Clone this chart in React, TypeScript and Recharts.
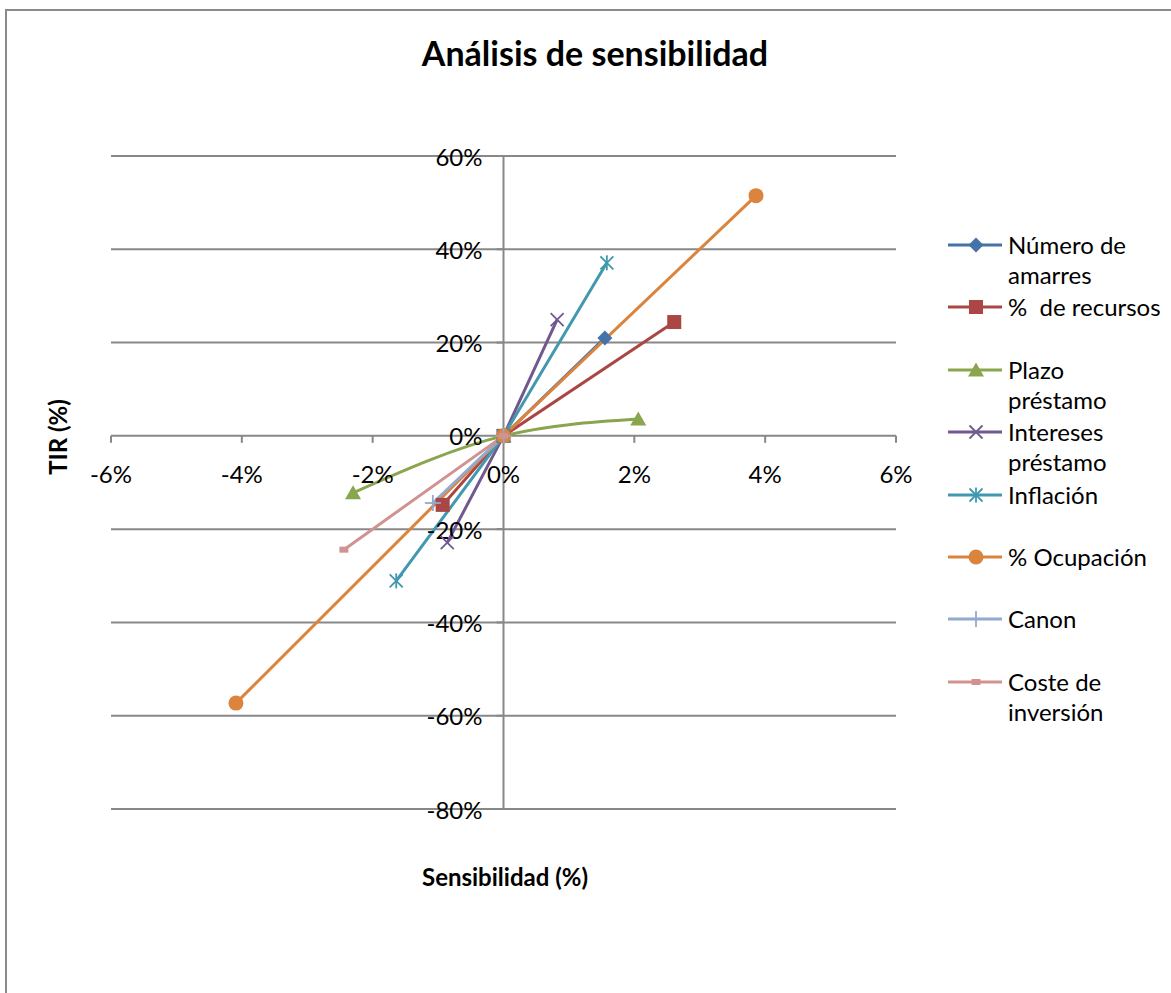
import React from "react";
import {
  LineChart,
  Line,
  XAxis,
  YAxis,
  ReferenceLine,
  ReferenceDot,
  Legend,
} from "recharts";

const X_TICKS = [-6, -4, -2, 0, 2, 4, 6];
const Y_TICKS = [60, 40, 20, 0, -20, -40, -60, -80];

// sensibilidad (%) vs TIR (%)
const numeroAmarres = [
  { x: 0, y: 0 },
  { x: 1.55, y: 21.0 },
];
const recursos = [
  { x: -0.93, y: -14.8 },
  { x: 0, y: 0 },
  { x: 2.61, y: 24.4 },
];
const plazoPrestamo = [
  { x: -2.3, y: -12.2 },
  { x: 0, y: 0 },
  { x: 2.06, y: 3.6 },
];
const interesesPrestamo = [
  { x: -0.86, y: -22.9 },
  { x: 0, y: 0 },
  { x: 0.82, y: 24.9 },
];
const inflacion = [
  { x: -1.64, y: -31.1 },
  { x: 0, y: 0 },
  { x: 1.58, y: 37.1 },
];
const ocupacion = [
  { x: -4.09, y: -57.3 },
  { x: 0, y: 0 },
  { x: 3.86, y: 51.5 },
];
const canon = [
  { x: -1.08, y: -14.4 },
  { x: 0, y: 0 },
];
const costeInversion = [
  { x: -2.44, y: -24.4 },
  { x: 0, y: 0 },
];

type Kind = "diamond" | "square" | "triangle" | "x" | "star" | "circle" | "plus" | "dash";

const SERIES: {
  name: string;
  label: string;
  color: string;
  kind: Kind;
  curve: "linear" | "monotone";
  data: { x: number; y: number }[];
}[] = [
  { name: "Número de amarres", label: "Número de\namarres", color: "#4572A7", kind: "diamond", curve: "linear", data: numeroAmarres },
  { name: "% de recursos", label: "%  de recursos", color: "#AA4643", kind: "square", curve: "linear", data: recursos },
  { name: "Plazo préstamo", label: "Plazo\npréstamo", color: "#89A54E", kind: "triangle", curve: "monotone", data: plazoPrestamo },
  { name: "Intereses préstamo", label: "Intereses\npréstamo", color: "#71588F", kind: "x", curve: "linear", data: interesesPrestamo },
  { name: "Inflación", label: "Inflación", color: "#4198AF", kind: "star", curve: "linear", data: inflacion },
  { name: "% Ocupación", label: "% Ocupación", color: "#DB843D", kind: "circle", curve: "linear", data: ocupacion },
  { name: "Canon", label: "Canon", color: "#93A9CF", kind: "plus", curve: "linear", data: canon },
  { name: "Coste de inversión", label: "Coste de\ninversión", color: "#D19392", kind: "dash", curve: "linear", data: costeInversion },
];

const FONT = "Lato, 'Open Sans', sans-serif";
const GRID = "#888888";

function Marker({ cx, cy, kind, color }: { cx: number; cy: number; kind: Kind; color: string }) {
  switch (kind) {
    case "diamond":
      return <polygon points={`${cx},${cy - 7.5} ${cx + 7.5},${cy} ${cx},${cy + 7.5} ${cx - 7.5},${cy}`} fill={color} />;
    case "square":
      return <rect x={cx - 7} y={cy - 7} width={14} height={14} fill={color} />;
    case "triangle":
      return <polygon points={`${cx},${cy - 7.5} ${cx + 8},${cy + 6.5} ${cx - 8},${cy + 6.5}`} fill={color} />;
    case "x":
      return (
        <g stroke={color} strokeWidth={1.8}>
          <line x1={cx - 6.5} y1={cy - 6.5} x2={cx + 6.5} y2={cy + 6.5} />
          <line x1={cx - 6.5} y1={cy + 6.5} x2={cx + 6.5} y2={cy - 6.5} />
        </g>
      );
    case "star":
      return (
        <g stroke={color} strokeWidth={1.8}>
          <line x1={cx - 6.5} y1={cy - 6.5} x2={cx + 6.5} y2={cy + 6.5} />
          <line x1={cx - 6.5} y1={cy + 6.5} x2={cx + 6.5} y2={cy - 6.5} />
          <line x1={cx} y1={cy - 7.5} x2={cx} y2={cy + 7.5} />
        </g>
      );
    case "circle":
      return <circle cx={cx} cy={cy} r={7.5} fill={color} />;
    case "plus":
      return (
        <g stroke={color} strokeWidth={1.8}>
          <line x1={cx - 8} y1={cy} x2={cx + 8} y2={cy} />
          <line x1={cx} y1={cy - 8} x2={cx} y2={cy + 8} />
        </g>
      );
    default:
      return <rect x={cx - 4.5} y={cy - 3} width={9} height={6} fill={color} />;
  }
}

function renderLegend() {
  return (
    <div style={{ fontFamily: FONT, fontSize: 24, color: "#000" }}>
      {SERIES.map((s) => (
        <div key={s.name} style={{ position: "relative", height: 62.4 }}>
          <svg width={56} height={30} style={{ position: "absolute", left: 0, top: 0 }}>
            <line x1={0} y1={15} x2={54} y2={15} stroke={s.color} strokeWidth={3} />
            <Marker cx={28} cy={15} kind={s.kind} color={s.color} />
          </svg>
          <div style={{ position: "absolute", left: 60, top: 0, lineHeight: "30px", whiteSpace: "pre" }}>
            {s.label}
          </div>
        </div>
      ))}
    </div>
  );
}

export default function App() {
  return (
    <div
      style={{
        position: "absolute",
        left: 0,
        top: 0,
        width: 1171,
        height: 993,
        background: "#fff",
        overflow: "hidden",
        fontFamily: FONT,
      }}
    >
      <div
        style={{
          position: "absolute",
          left: 5,
          top: 9,
          width: 1400,
          height: 1200,
          borderTop: "2px solid #8a8a8a",
          borderLeft: "2px solid #8a8a8a",
        }}
      />
      <div
        style={{
          position: "absolute",
          left: 0,
          width: 1190,
          top: 32,
          textAlign: "center",
          fontSize: 34,
          fontWeight: 700,
        }}
      >
        Análisis de sensibilidad
      </div>
      <div
        style={{
          position: "absolute",
          left: 305,
          width: 400,
          top: 862,
          textAlign: "center",
          fontSize: 24,
          fontWeight: 700,
        }}
      >
        Sensibilidad (%)
      </div>
      <div
        style={{
          position: "absolute",
          left: 57,
          top: 437,
          transform: "translate(-50%, -50%) rotate(-90deg)",
          fontSize: 24,
          fontWeight: 700,
          whiteSpace: "nowrap",
        }}
      >
        TIR (%)
      </div>
      <div style={{ position: "absolute", left: 0, top: 0 }}>
        <LineChart width={1171} height={993} margin={{ top: 156, right: 275, bottom: 184, left: 111 }}>
          <XAxis type="number" dataKey="x" domain={[-6, 6]} ticks={X_TICKS} hide />
          <YAxis type="number" domain={[-80, 60]} ticks={Y_TICKS} hide />
          {Y_TICKS.map((t) => (
            <ReferenceLine key={`g${t}`} y={t} stroke={GRID} strokeWidth={2} />
          ))}
          <ReferenceLine x={0} stroke={GRID} strokeWidth={2} />
          {X_TICKS.map((t) => (
            <ReferenceDot
              key={`xt${t}`}
              x={t}
              y={0}
              r={0}
              shape={(p: any) => (
                <g>
                  <line x1={p.cx} y1={p.cy} x2={p.cx} y2={p.cy + 7} stroke={GRID} strokeWidth={2} />
                  <text
                    x={p.cx}
                    y={p.cy + 38}
                    textAnchor="middle"
                    dominantBaseline="central"
                    fontSize={24}
                    fontFamily={FONT}
                    fill="#000"
                  >
                    {`${t}%`}
                  </text>
                </g>
              )}
            />
          ))}
          {Y_TICKS.map((t) => (
            <ReferenceDot
              key={`yt${t}`}
              x={0}
              y={t}
              r={0}
              shape={(p: any) => (
                <g>
                  <line x1={p.cx - 7} y1={p.cy} x2={p.cx} y2={p.cy} stroke={GRID} strokeWidth={2} />
                  <text
                    x={p.cx - 21}
                    y={p.cy}
                    textAnchor="end"
                    dominantBaseline="central"
                    fontSize={24}
                    fontFamily={FONT}
                    fill="#000"
                  >
                    {`${t}%`}
                  </text>
                </g>
              )}
            />
          ))}
          {SERIES.map((s) => (
            <Line
              key={s.name}
              name={s.name}
              data={s.data}
              dataKey="y"
              type={s.curve}
              stroke={s.color}
              strokeWidth={3}
              isAnimationActive={false}
              activeDot={false}
              dot={(p: any) => (
                <Marker key={`${s.name}-${p.index}`} cx={p.cx} cy={p.cy} kind={s.kind} color={s.color} />
              )}
            />
          ))}
          <Legend
            layout="vertical"
            align="center"
            verticalAlign="middle"
            content={renderLegend}
            wrapperStyle={{ left: 948, top: 230, width: 223, height: 500 }}
          />
        </LineChart>
      </div>
    </div>
  );
}
